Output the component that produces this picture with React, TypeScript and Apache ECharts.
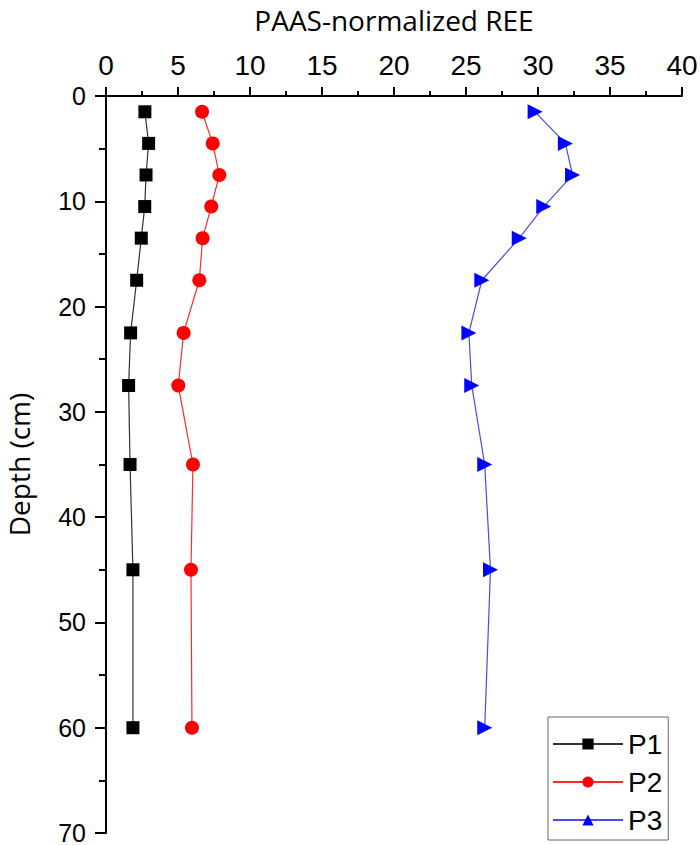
import React, { useEffect, useRef } from "react";
import * as echarts from "echarts";

const depths = [1.5, 4.5, 7.5, 10.5, 13.5, 17.5, 22.5, 27.5, 35, 45, 60];
const p1 = [2.7, 2.96, 2.78, 2.69, 2.45, 2.13, 1.71, 1.57, 1.67, 1.87, 1.87];
const p2 = [6.67, 7.41, 7.87, 7.31, 6.71, 6.48, 5.39, 5.02, 6.04, 5.9, 5.97];
const p3 = [29.8, 31.9, 32.4, 30.4, 28.7, 26.1, 25.2, 25.4, 26.3, 26.7, 26.3];
const seriesNames = ["P1", "P2", "P3"];
const xTitle = "PAAS-normalized REE";
const yTitle = "Depth (cm)";

const pairs = (vals: number[]) => vals.map((v, i) => [v, depths[i]]);

export default function App() {
  const ref = useRef<HTMLDivElement>(null);
  useEffect(() => {
    if (!ref.current) return;
    const chart = echarts.init(ref.current, undefined, { renderer: "svg" });
    const fam = "Arial, 'Liberation Sans', sans-serif";
    const nameFont = { fontFamily: "'Open Sans', sans-serif", fontSize: 28, color: "#000", lineHeight: 30 };
    chart.setOption({
      animation: false,
      backgroundColor: "#fff",
      grid: { left: 106, top: 96, right: 18, bottom: 12, containLabel: false, outerBoundsMode: "none" },
      xAxis: {
        type: "value",
        position: "top",
        min: 0,
        max: 40,
        interval: 5,
        name: xTitle,
        nameLocation: "middle",
        nameGap: 61,
        nameTextStyle: nameFont,
        axisLine: { show: true, onZero: false, lineStyle: { color: "#000", width: 2 } },
        axisTick: { show: true, length: 9, lineStyle: { color: "#000", width: 2 } },
        minorTick: { show: true, splitNumber: 2, length: 5, lineStyle: { color: "#000", width: 2 } },
        axisLabel: { fontFamily: fam, fontSize: 28, color: "#000", margin: 17 },
        splitLine: { show: false },
      },
      yAxis: {
        type: "value",
        inverse: true,
        min: 0,
        max: 70,
        interval: 10,
        name: yTitle,
        nameLocation: "middle",
        nameGap: 72,
        nameRotate: 90,
        nameTextStyle: nameFont,
        axisLine: { show: true, onZero: false, lineStyle: { color: "#000", width: 2 } },
        axisTick: { show: true, length: 11, lineStyle: { color: "#000", width: 2 } },
        minorTick: { show: true, splitNumber: 2, length: 7, lineStyle: { color: "#000", width: 2 } },
        axisLabel: { fontFamily: fam, fontSize: 25, color: "#000", margin: 20, lineHeight: 18 },
        splitLine: { show: false },
      },
      legend: {
        orient: "vertical",
        left: 548,
        top: 717,
        data: seriesNames,
        itemWidth: 70,
        itemHeight: 14,
        itemGap: 10,
        symbolRotate: 0,
        padding: [13, 6, 6, 4],
        borderColor: "#666",
        borderWidth: 1,
        textStyle: { fontFamily: fam, fontSize: 28, color: "#000", lineHeight: 26 },
      },
      series: [
        {
          name: seriesNames[0],
          type: "line",
          data: pairs(p1),
          symbol: "rect",
          symbolSize: 13,
          itemStyle: { color: "#000" },
          lineStyle: { color: "#333", width: 1.2 },
        },
        {
          name: seriesNames[1],
          type: "line",
          data: pairs(p2),
          symbol: "circle",
          symbolSize: 14,
          itemStyle: { color: "#ff0000" },
          lineStyle: { color: "#ff2a2a", width: 1.2 },
        },
        {
          name: seriesNames[2],
          type: "line",
          data: pairs(p3),
          symbol: "triangle",
          symbolSize: 15,
          symbolRotate: -90,
          itemStyle: { color: "#0000ff" },
          lineStyle: { color: "#4a4aee", width: 1.2 },
        },
      ],
    });
    return () => chart.dispose();
  }, []);
  return <div ref={ref} style={{ width: 700, height: 845, position: "absolute", left: 0, top: 0 }} />;
}
